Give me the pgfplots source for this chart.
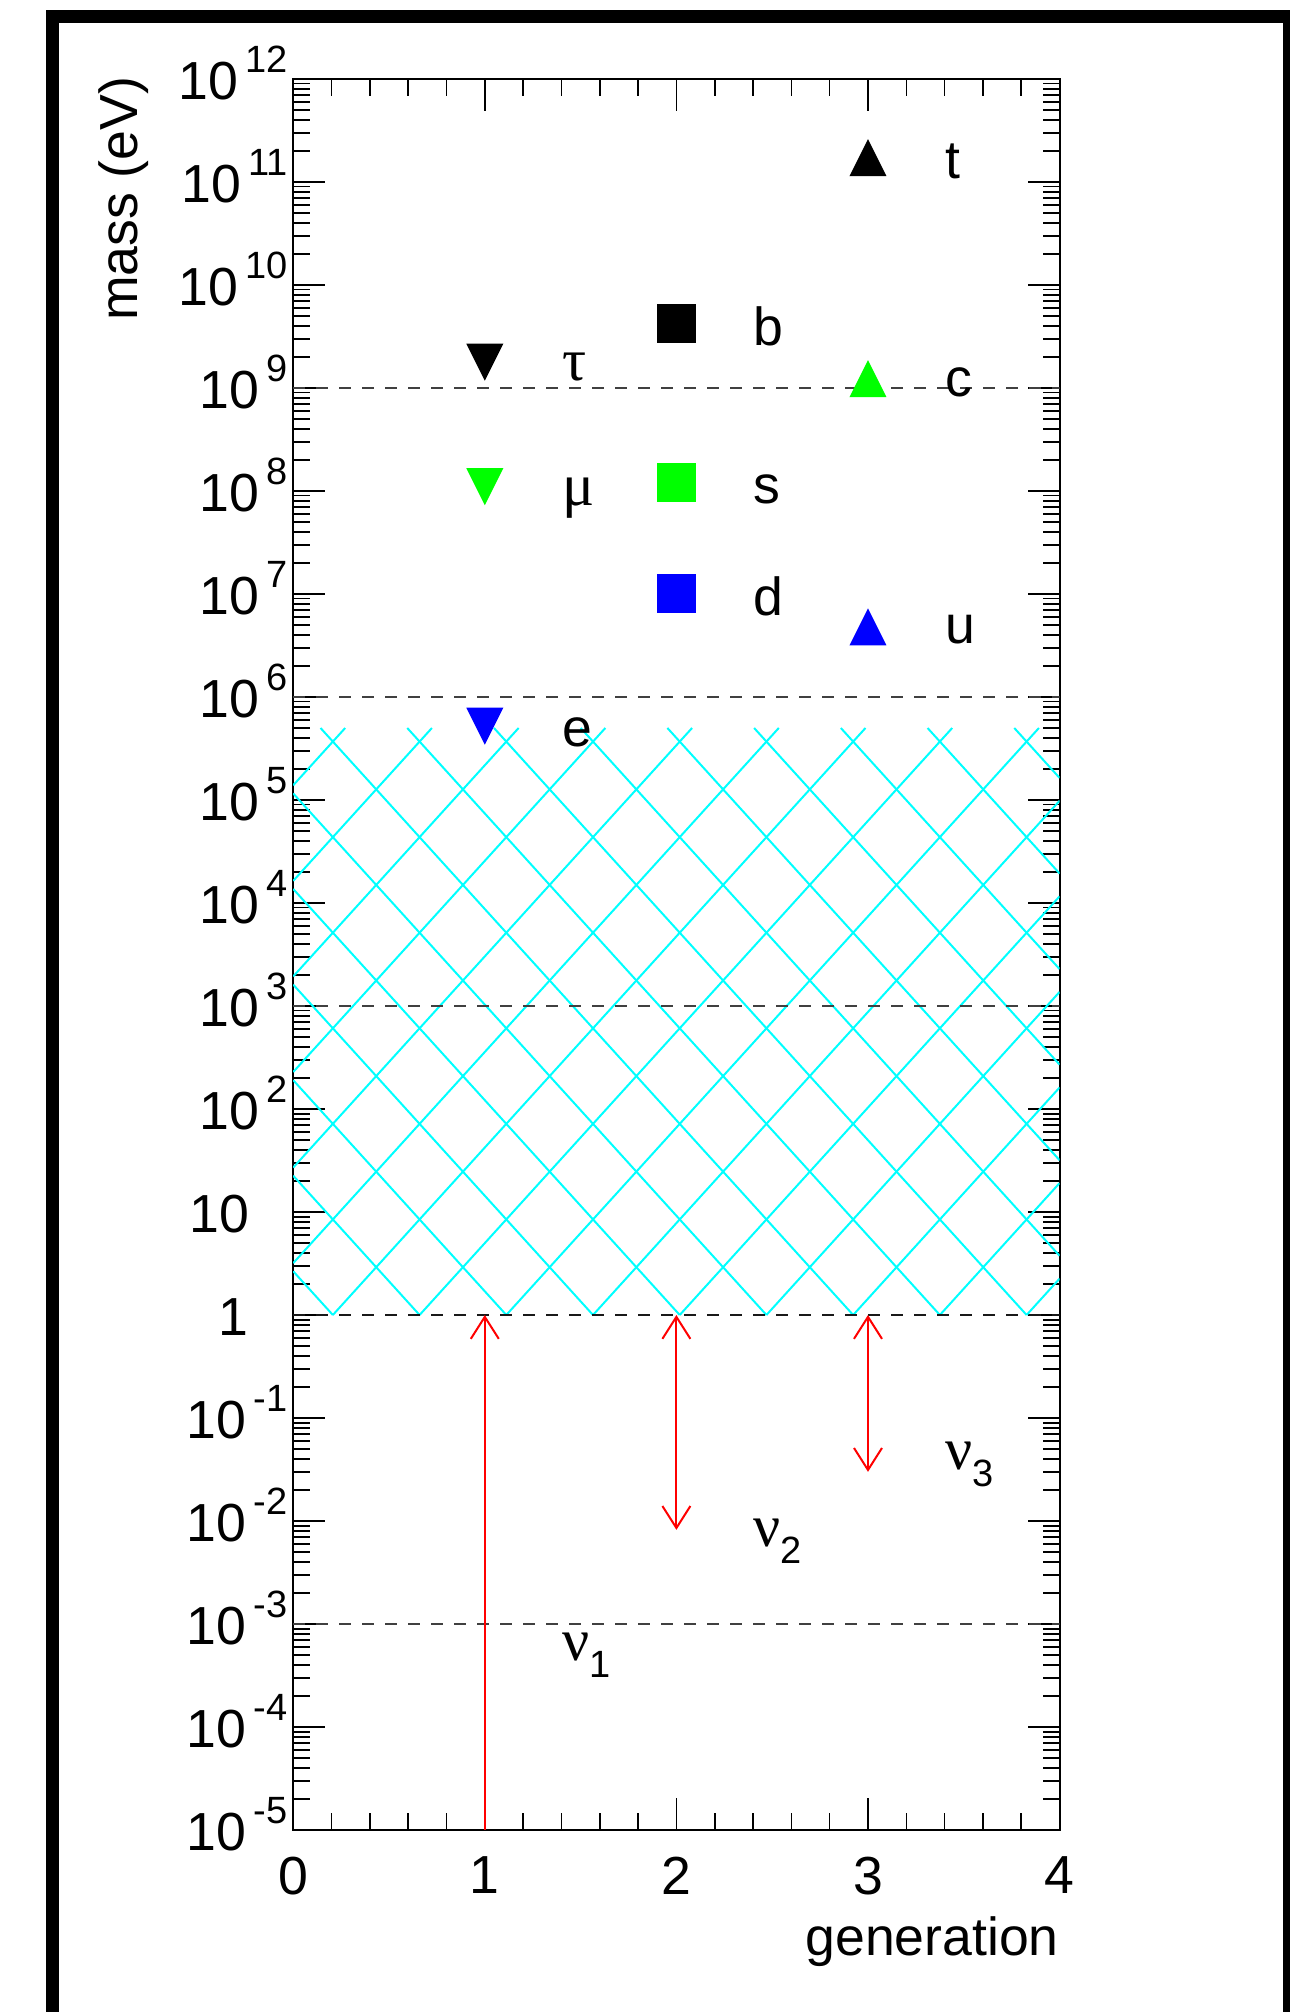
\documentclass[border=0pt]{standalone}
\usepackage{fontspec}
\setmainfont{Liberation Sans}
\newfontfamily\grk{Liberation Serif}
\usepackage{pgfplots}
\pgfplotsset{compat=1.18}
\usetikzlibrary{arrows.meta}
\definecolor{rcyan}{rgb}{0,1,1}
\definecolor{rgreen}{rgb}{0,1,0}
\definecolor{rblue}{rgb}{0,0,1}
\definecolor{rred}{rgb}{1,0,0}

\pgfdeclareplotmark{rtu}{%
  \pgfpathmoveto{\pgfqpoint{0pt}{\pgfplotmarksize}}%
  \pgfpathlineto{\pgfqpoint{\pgfplotmarksize}{-\pgfplotmarksize}}%
  \pgfpathlineto{\pgfqpoint{-\pgfplotmarksize}{-\pgfplotmarksize}}%
  \pgfpathclose\pgfusepathqfill}
\pgfdeclareplotmark{rtd}{%
  \pgfpathmoveto{\pgfqpoint{0pt}{-\pgfplotmarksize}}%
  \pgfpathlineto{\pgfqpoint{\pgfplotmarksize}{\pgfplotmarksize}}%
  \pgfpathlineto{\pgfqpoint{-\pgfplotmarksize}{\pgfplotmarksize}}%
  \pgfpathclose\pgfusepathqfill}
\pgfdeclareplotmark{rsq}{%
  \pgfpathrectanglecorners{\pgfqpoint{-\pgfplotmarksize}{-\pgfplotmarksize}}{\pgfqpoint{\pgfplotmarksize}{\pgfplotmarksize}}%
  \pgfusepathqfill}

\newcommand{\ex}[1]{10\kern1.8pt\raisebox{6.75pt}{\fontsize{9.5pt}{10pt}\selectfont #1}}
\newcommand{\sub}[1]{\raisebox{-4.25pt}{\normalfont\fontsize{9.5pt}{10pt}\selectfont #1}}
\newcommand{\lab}{\fontsize{13.4pt}{14pt}\selectfont}

\def\mylist{2e-5}
\foreach \ee in {-5,...,11}{\foreach \mm in {2,...,9}{\xdef\mylist{\mylist,\mm e\ee}}}

\begin{document}
\begin{tikzpicture}
\begin{axis}[
  at={(73.3pt,45.5pt)}, anchor=south west,
  scale only axis, width=191.6pt, height=437.75pt,
  xmin=0, xmax=4, ymin=1e-5, ymax=1e12, ymode=log,
  axis line style={line width=0.5pt},
  tick style={black, line width=0.4pt},
  tick align=inside,
  major tick length=8pt, minor tick length=4.25pt,
  xtick={0,1,2,3,4}, xticklabels={0,1,2,3,4}, minor x tick num=4,
  ytick={1e-5,1e-4,1e-3,1e-2,1e-1,1,1e1,1e2,1e3,1e4,1e5,1e6,1e7,1e8,1e9,1e10,1e11,1e12},
  yticklabels={\ex{-5},\ex{-4},\ex{-3},\ex{-2},\ex{-1},{1\kern9.7pt},{10\kern9.5pt},\ex{2},\ex{3},\ex{4},\ex{5},\ex{6},\ex{7},\ex{8},\ex{9},\ex{10},\ex{11},\ex{12}},
  minor ytick/.expanded=\mylist,
  xtick pos=both, ytick pos=both,
  xticklabel pos=lower, yticklabel pos=left,
  tick label style={font=\lab},
  xticklabel style={anchor=north, inner sep=0pt, yshift=-6.5pt},
  yticklabel style={anchor=base east, inner sep=0pt, xshift=-1.2pt, yshift=-5.2pt},
  unbounded coords=jump,
]
% cross-hatched region between 1 eV and 0.5 MeV (rising hatch lines)
\addplot[rcyan, line width=0.5pt] coordinates {
 (0,138890) (0.2714,5e5) (0,nan)
 (0,16394) (0.724,5e5) (0,nan)
 (0,1936.4) (1.1766,5e5) (0,nan)
 (0,228.6) (1.6292,5e5) (0,nan)
 (0,27.0) (2.0818,5e5) (0,nan)
 (0,3.188) (2.5344,5e5) (0,nan)
 (0.207,1) (2.987,5e5) (0,nan)
 (0.6596,1) (3.4396,5e5) (0,nan)
 (1.1122,1) (3.8922,5e5) (0,nan)
 (1.5648,1) (4,98220) (0,nan)
 (2.0174,1) (4,11594) (0,nan)
 (2.47,1) (4,1369.5) (0,nan)
 (2.9226,1) (4,161.65) (0,nan)
 (3.3752,1) (4,19.09) (0,nan)
 (3.8278,1) (4,2.2542)
};
% falling hatch lines
\addplot[rcyan, line width=0.5pt] coordinates {
 (0.207,1) (0,2.6572) (0,nan)
 (0.6596,1) (0,22.50) (0,nan)
 (1.1122,1) (0,190.55) (0,nan)
 (1.5648,1) (0,1613.2) (0,nan)
 (2.0174,1) (0,13670) (0,nan)
 (2.47,1) (0,115720) (0,nan)
 (2.9226,1) (0.1426,5e5) (0,nan)
 (3.3752,1) (0.5952,5e5) (0,nan)
 (3.8278,1) (1.0478,5e5) (0,nan)
 (4,3.7565) (1.5004,5e5) (0,nan)
 (4,31.82) (1.953,5e5) (0,nan)
 (4,269.5) (2.4056,5e5) (0,nan)
 (4,2281.7) (2.8582,5e5) (0,nan)
 (4,19324) (3.3108,5e5) (0,nan)
 (4,163680) (3.7634,5e5)
};
% dashed reference lines
\addplot[black!75, line width=0.5pt, dash pattern=on 3pt off 2.75pt] coordinates {(0,1e9) (4,1e9)};
\addplot[black!75, line width=0.5pt, dash pattern=on 3pt off 2.75pt] coordinates {(0,1e6) (4,1e6)};
\addplot[black!75, line width=0.5pt, dash pattern=on 3pt off 2.75pt] coordinates {(0,1e3) (4,1e3)};
\addplot[black!90, line width=0.5pt, dash pattern=on 3pt off 2.75pt] coordinates {(0,1) (4,1)};
\addplot[black!75, line width=0.5pt, dash pattern=on 3pt off 2.75pt] coordinates {(0,1e-3) (4,1e-3)};
% leptons
\addplot[only marks, mark=rtd, mark size=4.625pt, black] coordinates {(1,1.78e9)};
\addplot[only marks, mark=rtd, mark size=4.625pt, rgreen] coordinates {(1,1.1e8)};
\addplot[only marks, mark=rtd, mark size=4.625pt, rblue] coordinates {(1,5.2e5)};
% down-type quarks
\addplot[only marks, mark=rsq, mark size=4.875pt, black] coordinates {(2,4.2e9)};
\addplot[only marks, mark=rsq, mark size=4.875pt, rgreen] coordinates {(2,1.2e8)};
\addplot[only marks, mark=rsq, mark size=4.875pt, rblue] coordinates {(2,1.0e7)};
% up-type quarks
\addplot[only marks, mark=rtu, mark size=4.625pt, black] coordinates {(3,1.72e11)};
\addplot[only marks, mark=rtu, mark size=4.625pt, rgreen] coordinates {(3,1.23e9)};
\addplot[only marks, mark=rtu, mark size=4.625pt, rblue] coordinates {(3,4.8e6)};
% neutrinos
\addplot[rred, line width=0.5pt, -{Straight Barb[length=5.5pt,width=7pt]}] coordinates {(1,1e-5) (1,1)};
\addplot[rred, line width=0.5pt, {Straight Barb[length=5.5pt,width=7pt]}-{Straight Barb[length=5.5pt,width=7pt]}] coordinates {(2,1) (2,8.2e-3)};
\addplot[rred, line width=0.5pt, {Straight Barb[length=5.5pt,width=7pt]}-{Straight Barb[length=5.5pt,width=7pt]}] coordinates {(3,1) (3,3.0e-2)};
% labels
\node[anchor=base west, inner sep=0pt, font=\grk\fontsize{15pt}{16pt}\selectfont] at (axis cs:1.4,1.17e9) {τ};
\node[anchor=base west, inner sep=0pt, font=\grk\fontsize{15pt}{16pt}\selectfont] at (axis cs:1.4,7.15e7) {μ};
\node[anchor=base west, inner sep=0pt, font=\lab] at (axis cs:1.4,3.29e5) {e};
\node[anchor=base west, inner sep=0pt, font=\lab] at (axis cs:2.4,2.61e9) {b};
\node[anchor=base west, inner sep=0pt, font=\lab] at (axis cs:2.4,7.64e7) {s};
\node[anchor=base west, inner sep=0pt, font=\lab] at (axis cs:2.4,6.25e6) {d};
\node[anchor=base west, inner sep=0pt, font=\lab] at (axis cs:3.4,1.09e11) {t};
\node[anchor=base west, inner sep=0pt, font=\lab] at (axis cs:3.4,8.24e8) {c};
\node[anchor=base west, inner sep=0pt, font=\lab] at (axis cs:3.4,3.34e6) {u};
\node[anchor=base west, inner sep=0pt, font=\grk\fontsize{15pt}{16pt}\selectfont] at (axis cs:1.4,4.47e-4) {ν\sub{1}};
\node[anchor=base west, inner sep=0pt, font=\grk\fontsize{15pt}{16pt}\selectfont] at (axis cs:2.4,5.6e-3) {ν\sub{2}};
\node[anchor=base west, inner sep=0pt, font=\grk\fontsize{15pt}{16pt}\selectfont] at (axis cs:3.4,3.13e-2) {ν\sub{3}};
% unit labels on the right
\node[anchor=west, inner sep=0pt, font=\lab] at ([xshift=4.2pt]axis cs:4,1e12) {TeV};
\node[anchor=west, inner sep=0pt, font=\lab] at ([xshift=4.2pt]axis cs:4,1e9) {GeV};
\node[anchor=west, inner sep=0pt, font=\lab] at ([xshift=4.2pt]axis cs:4,1e6) {MeV};
\node[anchor=west, inner sep=0pt, font=\lab] at ([xshift=4.2pt]axis cs:4,1e3) {keV};
\node[anchor=west, inner sep=0pt, font=\lab] at ([xshift=4.2pt]axis cs:4,1) {eV};
\node[anchor=west, inner sep=0pt, font=\lab] at ([xshift=4.2pt]axis cs:4,1e-3) {meV};
\end{axis}
% axis titles
\node[rotate=90, anchor=base east, inner sep=0pt, font=\lab] at (34.3pt,484pt) {mass (eV)};
\node[anchor=base east, inner sep=0pt, font=\lab] at (264.9pt,14pt) {generation};
% window frame
\fill[black] (11.5pt,0) rectangle (14.8pt,500.5pt);
\fill[black] (11.5pt,497.25pt) rectangle (322.5pt,500.5pt);
\fill[black] (320.75pt,0) rectangle (322.5pt,500.5pt);
\pgfresetboundingbox
\useasboundingbox (0,0) rectangle (322.5pt,503pt);
\end{tikzpicture}
\end{document}
